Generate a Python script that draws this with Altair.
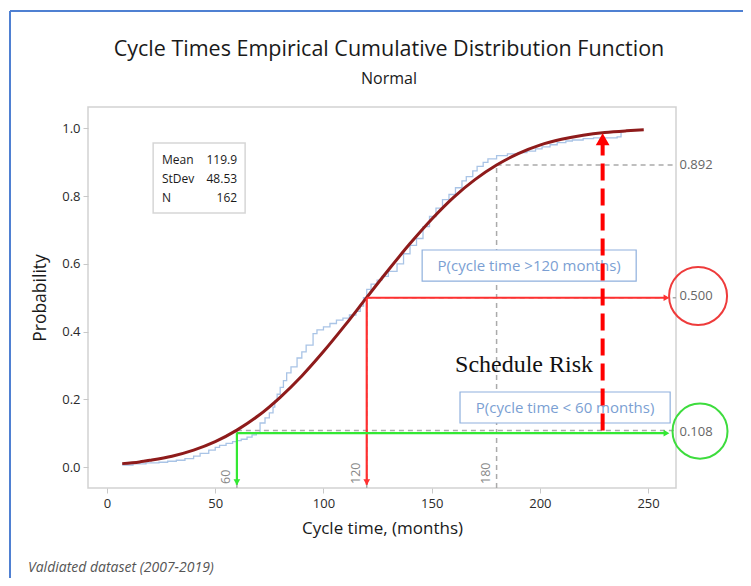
import altair as alt
import pandas as pd

# ---- data ----
fit_x = [7, 15, 20, 30, 40, 50, 60, 70, 80, 90, 100, 110, 120, 130, 140, 150,
         160, 170, 180, 190, 200, 210, 220, 230, 240, 248]
fit_p = [0.010, 0.015, 0.020, 0.032, 0.050, 0.075, 0.109, 0.152, 0.206, 0.269,
         0.341, 0.419, 0.501, 0.582, 0.660, 0.732, 0.796, 0.849, 0.892, 0.926,
         0.951, 0.968, 0.980, 0.988, 0.993, 0.996]

emp_x = [7, 12, 18, 24, 28, 32, 36, 40, 43, 47, 50, 52, 55, 58, 60, 62, 64.7, 67,
         69, 70.7, 73, 75, 76.7, 77.5, 78.6, 80, 81.5, 83, 85, 87.8, 90, 92, 95.2,
         97, 100, 103, 106, 109, 112, 115, 117, 118.5, 120, 122, 124.8, 127, 130,
         134, 137, 140, 143, 146, 149, 152, 155, 158, 161, 164, 166, 169, 171,
         173.8, 176, 180, 185, 190, 194, 198, 201, 204.7, 208, 212, 215, 220,
         224.8, 230, 235.7, 237.5, 238.5]
emp_p = [0.006, 0.009, 0.012, 0.014, 0.017, 0.020, 0.025, 0.032, 0.040, 0.050,
         0.058, 0.064, 0.070, 0.075, 0.078, 0.082, 0.088, 0.095, 0.101, 0.130,
         0.145, 0.160, 0.177, 0.195, 0.215, 0.235, 0.255, 0.278, 0.296, 0.322,
         0.340, 0.360, 0.394, 0.405, 0.414, 0.424, 0.434, 0.440, 0.449, 0.460,
         0.475, 0.500, 0.525, 0.540, 0.552, 0.563, 0.578, 0.600, 0.630, 0.655,
         0.675, 0.710, 0.740, 0.765, 0.790, 0.805, 0.825, 0.845, 0.858, 0.875,
         0.888, 0.900, 0.910, 0.920, 0.925, 0.929, 0.933, 0.940, 0.946, 0.952,
         0.958, 0.963, 0.966, 0.970, 0.972, 0.972, 0.975, 0.990, 0.994]

x_ticks = [0, 50, 100, 150, 200, 250]
y_ticks = [0.0, 0.2, 0.4, 0.6, 0.8, 1.0]

stat_names = ["Mean", "StDev", "N"]
stat_values = ["119.9", "48.53", "162"]

ref_x = [60, 120, 180]
ref_p = [0.108, 0.500, 0.892]
ref_x_labels = ["60", "120", "180"]
ref_p_labels = ["0.108", "0.500", "0.892"]

title = "Cycle Times Empirical Cumulative Distribution Function"
subtitle = "Normal"
box_texts = ["P(cycle time >120 months)", "P(cycle time < 60 months)"]
risk_text = "Schedule Risk"
note_text = "Valdiated dataset (2007-2019)"

X0, X1 = -8.8, 262.9
Y0, Y1 = -0.062, 1.0635
FONT = "Open Sans"

xs = alt.Scale(domain=[X0, X1], nice=False, zero=False)
ys = alt.Scale(domain=[Y0, Y1], nice=False, zero=False)

x_axis = alt.Axis(
    values=x_ticks, title="Cycle time, (months)", grid=False, domain=False,
    tickColor="#c8c8c8", tickSize=5, labelFontSize=13, labelColor="#2a2a2a",
    labelFont=FONT, titleFont=FONT, titleFontSize=17, titleFontWeight=500,
    titleColor="#1a1a1a", labelPadding=4, titlePadding=10)
y_axis = alt.Axis(
    values=y_ticks, format=".1f", title="Probability", grid=False, domain=False,
    tickColor="#c8c8c8", tickSize=5, labelFontSize=13, labelColor="#2a2a2a",
    labelFont=FONT, titleFont=FONT, titleFontSize=17.5, titleFontWeight=500,
    titleColor="#1a1a1a", labelPadding=3, titlePadding=12)

def X(f="x"):
    return alt.X(f, type="quantitative", scale=xs, axis=x_axis)

def Y(f="y"):
    return alt.Y(f, type="quantitative", scale=ys, axis=y_axis)

one = pd.DataFrame({"a": [0]})

emp_df = pd.DataFrame({"x": emp_x, "y": emp_p})
fit_df = pd.DataFrame({"x": fit_x, "y": fit_p})

emp = alt.Chart(emp_df).mark_line(interpolate="step-after", color="#a9c4e6",
                                  strokeWidth=1.3).encode(x=X(), y=Y())

fit = alt.Chart(fit_df).mark_line(interpolate="monotone", color="#8e1b1b",
                                  strokeWidth=3).encode(x=X(), y=Y())

# Stats box
stats_box = alt.Chart(pd.DataFrame({"x": [21.3], "x2": [63.8], "y": [0.957], "y2": [0.750]})
                      ).mark_rect(fill="white", stroke="#d6d6d6", strokeWidth=1.5).encode(
    x=X(), x2="x2", y=Y(), y2="y2")
stats_df = pd.DataFrame({"n": stat_names, "v": stat_values,
                         "xl": [25.4] * 3, "xr": [60.1] * 3,
                         "y": [0.907, 0.850, 0.795]})
stats_n = alt.Chart(stats_df).mark_text(align="left", baseline="middle", fontSize=12,
                                        font=FONT, color="#1a1a1a").encode(
    x=X("xl"), y=Y(), text="n:N")
stats_v = alt.Chart(stats_df).mark_text(align="right", baseline="middle", fontSize=12,
                                        font=FONT, color="#1a1a1a").encode(
    x=X("xr"), y=Y(), text="v:N")

# Gray dashed reference lines
gv = pd.DataFrame({"x": ref_x, "y": [Y0] * 3, "y2": ref_p})
gh = pd.DataFrame({"x": ref_x, "x2": [X1] * 3, "y": ref_p})
gray_v = alt.Chart(gv).mark_rule(color="#aaaaaa", strokeDash=[5, 4], strokeWidth=1.5).encode(
    x=X(), y=Y(), y2="y2")
gray_h = alt.Chart(gh).mark_rule(color="#aaaaaa", strokeDash=[5, 4], strokeWidth=1.5).encode(
    x=X(), x2="x2", y=Y())

# Boxes with text
box_df = pd.DataFrame({"x": [145.6, 163.1], "x2": [244.5, 260.2],
                       "y": [0.641, 0.2216], "y2": [0.549, 0.130],
                       "t": box_texts})
boxes = alt.Chart(box_df).mark_rect(fill="white", stroke="#8fb0dd", strokeWidth=1.2).encode(
    x=X(), x2="x2", y=Y(), y2="y2")
box_txt = alt.Chart(box_df).transform_calculate(
    cx="(datum.x + datum.x2) / 2", cy="(datum.y + datum.y2) / 2").mark_text(
    align="center", baseline="middle", fontSize=15, font=FONT, color="#7b9fd3").encode(
    x=X("cx"), y=Y("cy"), text="t:N")

# Colored solid arrows
col_df = pd.DataFrame({"x": [120, 60], "p": [0.5, 0.1], "c": ["#ff3030", "#33e833"]})
col_v = alt.Chart(col_df).transform_calculate(bot="-0.052").mark_rule(strokeWidth=2.2).encode(
    x=X(), y=Y("p"), y2="bot:Q", color=alt.Color("c:N", scale=None))
col_h = alt.Chart(col_df).transform_calculate(right="258.5").mark_rule(strokeWidth=2.2).encode(
    x=X(), x2="right:Q", y=Y("p"), color=alt.Color("c:N", scale=None))
head_d = alt.Chart(col_df).transform_calculate(bot="-0.045").mark_point(
    shape="triangle-down", filled=True, opacity=1, size=45).encode(
    x=X(), y=Y("bot"), color=alt.Color("c:N", scale=None))
head_r = alt.Chart(col_df).transform_calculate(right="258.5").mark_point(
    shape="triangle-right", filled=True, opacity=1, size=45).encode(
    x=X("right"), y=Y("p"), color=alt.Color("c:N", scale=None))

# Reference labels
rx_df = pd.DataFrame({"x": [v - 1.6 for v in ref_x], "t": ref_x_labels, "y": [-0.05] * 3})
rx_txt = alt.Chart(rx_df).mark_text(angle=270, align="left", baseline="bottom",
                                    fontSize=12.5, font=FONT, color="#888").encode(
    x=X(), y=Y(), text="t:N")
rp_df = pd.DataFrame({"x": [264.5] * 3, "y": [0.103, 0.505, 0.892], "t": ref_p_labels})
rp_txt = alt.Chart(rp_df).mark_text(align="left", baseline="middle", fontSize=13,
                                    font=FONT, color="#666").encode(
    x=X(), y=Y(), text="t:N")

# Circles around labels
circ_df = pd.DataFrame({"x": [273.1, 274.0], "y": [0.505, 0.106],
                        "c": ["#ee3b3b", "#3ddc3d"], "s": [3364, 3025]})
circles = alt.Chart(circ_df).mark_point(shape="circle", filled=False, strokeWidth=2,
                                        opacity=1).encode(
    x=X(), y=Y(), color=alt.Color("c:N", scale=None), size=alt.Size("s:Q", scale=None))

# Schedule risk dashed arrow
risk_df = pd.DataFrame({"x": [229], "y": [0.108], "y2": [0.955], "yh": [0.968]})
risk_line = alt.Chart(risk_df).mark_rule(color="#ff0000", strokeWidth=4,
                                         strokeDash=[17, 8]).encode(
    x=X(), y=Y(), y2="y2")
risk_head = alt.Chart(risk_df).mark_point(shape="triangle-up", filled=True, opacity=1,
                                          color="#ff0000", size=190).encode(
    x=X(), y=Y("yh"))
risk_txt = alt.Chart(pd.DataFrame({"x": [160.8], "y": [0.301], "t": [risk_text]})).mark_text(
    align="left", baseline="middle", fontSize=24, font="Liberation Serif", color="#111").encode(
    x=X(), y=Y(), text="t:N")

# Titles, outer screenshot frame and note (page decoration)
title_txt = alt.Chart(one).mark_text(align="center", baseline="middle", fontSize=21.5,
                                     font=FONT, fontWeight=500, color="#1a1a1a").encode(
    x=alt.value(301), y=alt.value(-57), text=alt.value(title))
sub_txt = alt.Chart(one).mark_text(align="center", baseline="middle", fontSize=16,
                                   font=FONT, fontWeight=500, color="#1a1a1a").encode(
    x=alt.value(301), y=alt.value(-28), text=alt.value(subtitle))
frame_top = alt.Chart(one).mark_rule(color="#4f80d2", strokeWidth=2).encode(
    x=alt.value(-78), x2=alt.value(700), y=alt.value(-96))
frame_left = alt.Chart(one).mark_rule(color="#4f80d2", strokeWidth=2).encode(
    x=alt.value(-78), y=alt.value(-96), y2=alt.value(480))
note = alt.Chart(one).mark_text(align="left", baseline="middle", fontSize=14,
                                fontStyle="italic", font=FONT, color="#555").encode(
    x=alt.value(-60), y=alt.value(461), text=alt.value(note_text))

chart = alt.layer(
    emp, stats_box, stats_n, stats_v, gray_v, gray_h, boxes, box_txt, fit,
    col_v, col_h, head_d, head_r, rx_txt, rp_txt, circles,
    risk_line, risk_head, risk_txt, title_txt, sub_txt, frame_top, frame_left, note,
).properties(
    width=588, height=381,
    autosize=alt.AutoSizeParams(type="none"),
    padding={"left": 80, "top": 99, "right": 67, "bottom": 90},
).configure_view(stroke="#d2d2d2", strokeWidth=1.5)

chart.save("out.html", embed_options={"renderer": "svg", "actions": False})
